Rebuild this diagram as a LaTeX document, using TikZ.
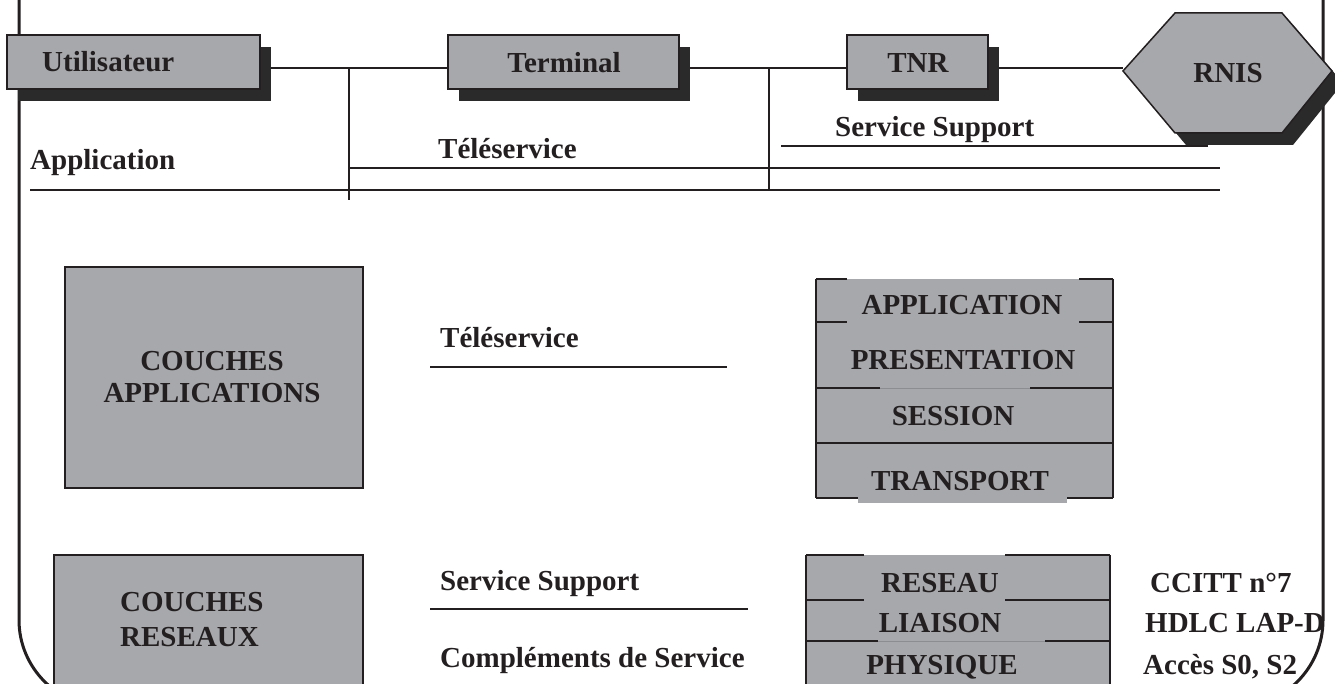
\documentclass[tikz,border=0pt]{standalone}
\usepackage{fontspec}
\setmainfont{Liberation Serif}
\usetikzlibrary{shadows}
\definecolor{boxgray}{HTML}{A7A8AB}
\definecolor{shadowc}{HTML}{2B2A2B}
\definecolor{ink}{HTML}{231F20}
\definecolor{faint}{HTML}{8C8D90}
\begin{document}
\begin{tikzpicture}[x=1pt,y=-1pt,
  lbl/.style={font=\fontsize{29}{32}\selectfont\bfseries, text=ink, inner sep=0pt},
  conn/.style={draw=ink, line width=2pt},
  frame/.style={draw=ink, line width=3pt},
  edge/.style={draw=ink, line width=1.8pt},
  topbox/.style={draw=ink, fill=boxgray, line width=1.8pt, inner sep=0pt,
    drop shadow={shadow xshift=11pt, shadow yshift=-12pt, fill=shadowc, opacity=1}},
  bigbox/.style={draw=ink, fill=boxgray, line width=1.8pt, inner sep=0pt}]
\useasboundingbox (0,0) rectangle (1335,684);
\clip (0,0) rectangle (1335,684);
% outer frame
\draw[frame] (1323,-10) -- (1323,620) .. controls (1323,668) and (1284,707) .. (1236,707)
  -- (106,707) .. controls (58,707) and (19,668) .. (19,620) -- (19,-10);
% connector line
\coordinate (rnw) at (1123,68);
\node[inner sep=0pt] (ua) at (133.5,68) {};
\draw[conn] (ua) -- (rnw);
% verticals and service lines
\draw[conn] (349,68) -- (349,200);
\draw[conn] (769,68) -- (769,190);
\draw[conn] (30,190) -- (1220,190);
\draw[conn] (349,168) -- (1220,168);
\draw[conn] (781,146) -- (1208,146);
% top boxes
\node[topbox, minimum width=253pt, minimum height=54pt] (u) at (133.5,62) {};
\node[topbox, minimum width=231pt, minimum height=54pt] (t) at (563.5,62) {};
\node[topbox, minimum width=141pt, minimum height=54pt] (tnr) at (917.5,62) {};
\node[lbl, anchor=base west] (ulbl) at (42,72) {Utilisateur};
\node[lbl, anchor=base] (tlbl) at (564,73) {Terminal};
\node[lbl, anchor=base] (tnrlbl) at (918,73) {TNR};
% hexagon RNIS
\fill[shadowc] (1134,83) -- (1186,25) -- (1293,25) -- (1343,83) -- (1293,145) -- (1186,145) -- cycle;
\filldraw[fill=boxgray, draw=ink, line width=1.5pt] (1123,71) -- (1175,13) -- (1282,13) -- (1332,71) -- (1282,133) -- (1175,133) -- cycle;
\node[lbl, anchor=base] (rn) at (1228,83) {RNIS};
% top texts
\node[lbl, anchor=base west] (app) at (30,170) {Application};
\node[lbl, anchor=base west] (tele1) at (438,159) {Téléservice};
\node[lbl, anchor=base west] (ss1) at (835,137) {Service Support};
% middle left box
\node[bigbox, minimum width=298pt, minimum height=221pt] (ca) at (214,377.5) {};
\node[lbl, align=center] (calbl) at (212,377) {COUCHES\\APPLICATIONS};
\node[lbl, anchor=base west] (tele2) at (440,347) {Téléservice};
\draw[conn] (430,367) -- (727,367);
% upper stack
\fill[boxgray] (816,279) rectangle (1113,498);
\fill[boxgray] (858,443) rectangle (1067,503);
\draw[edge] (816,279) -- (816,498);
\draw[edge] (1113,279) -- (1113,498);
\draw[edge] (816,279) -- (847,279) (1079,279) -- (1113,279);
\draw[edge] (816,322) -- (847,322) (1079,322) -- (1113,322);
\draw[edge] (816,388) -- (880,388) (1030,388) -- (1113,388);
\draw[faint, line width=1pt] (880,388) -- (1030,388);
\draw[edge] (816,443) -- (1113,443);
\draw[edge] (816,498) -- (858,498) (1067,498) -- (1113,498);
\node[lbl, anchor=base] (l7) at (962,315) {APPLICATION};
\node[lbl, anchor=base] (l6) at (963,370) {PRESENTATION};
\node[lbl, anchor=base] (l5) at (953,425) {SESSION};
\node[lbl, anchor=base] (l4) at (960,490) {TRANSPORT};
% lower left box
\fill[boxgray] (54,555) rectangle (363,700);
\draw[edge] (54,700) -- (54,555) -- (363,555) -- (363,700);
\node[lbl, anchor=base west] (cr1) at (120,611) {COUCHES};
\node[lbl, anchor=base west] (cr2) at (120,646) {RESEAUX};
\node[lbl, anchor=base west] (ss2) at (440,590) {Service Support};
\draw[conn] (430,609) -- (748,609);
\node[lbl, anchor=base west] (cds) at (440,667) {Compléments de Service};
% lower stack
\fill[boxgray] (806,555) rectangle (1110,700);
\draw[edge] (806,555) -- (806,700);
\draw[edge] (1110,555) -- (1110,700);
\draw[edge] (806,555) -- (864,555) (1005,555) -- (1110,555);
\draw[edge] (806,600) -- (864,600) (1005,600) -- (1110,600);
\draw[edge] (806,641) -- (878,641) (1045,641) -- (1110,641);
\draw[faint, line width=1pt] (878,641) -- (1045,641);
\node[lbl, anchor=base] (l3) at (940,592) {RESEAU};
\node[lbl, anchor=base] (l2) at (940,632) {LIAISON};
\node[lbl, anchor=base] (l1) at (942,674) {PHYSIQUE};
\node[lbl, anchor=base west] (p3) at (1150,592) {CCITT n°7};
\node[lbl, anchor=base west] (p2) at (1145,632) {HDLC LAP-D};
\node[lbl, anchor=base west] (p1) at (1143,674) {Accès S0, S2};
\end{tikzpicture}
\end{document}
